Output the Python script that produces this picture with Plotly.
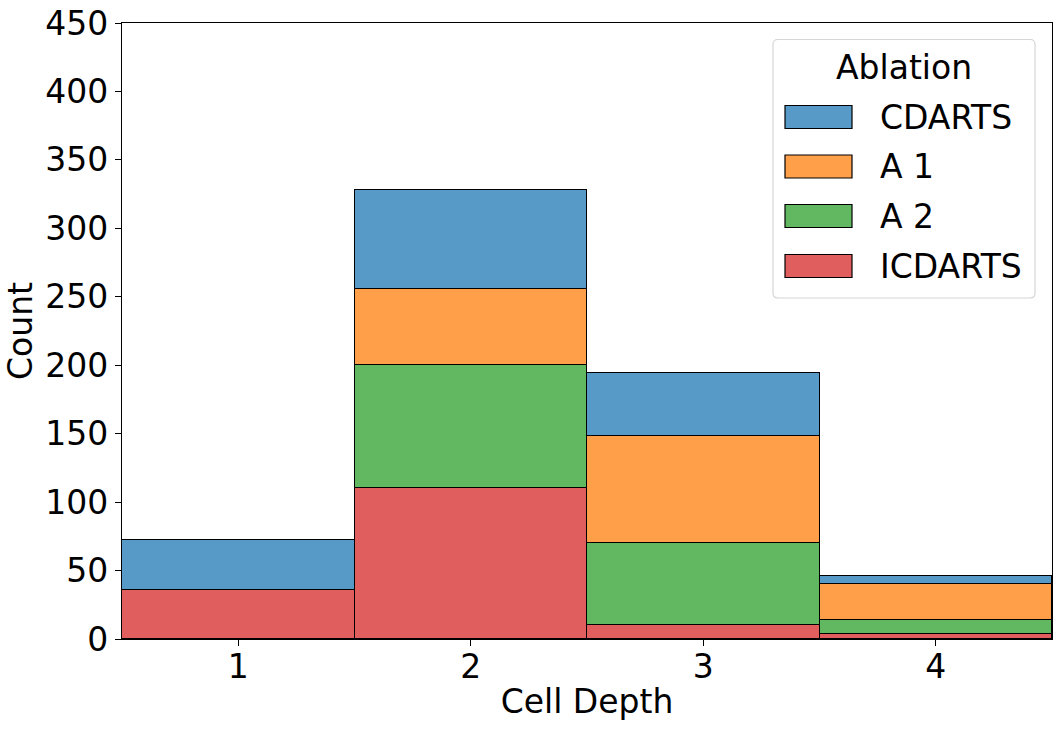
import plotly.graph_objects as go

depths = [1, 2, 3, 4]
series_names = ["ICDARTS", "A 2", "A 1", "CDARTS"]  # bottom to top
icdarts = [36, 110, 10, 4]
a2 = [0, 90, 60, 10]
a1 = [0, 56, 78, 26]
cdarts = [36, 72, 46, 6]
series_values = [icdarts, a2, a1, cdarts]
colors = {"ICDARTS": "#e05f5e", "A 2": "#61b861", "A 1": "#ff9f4a", "CDARTS": "#5799c7"}
legend_order = ["CDARTS", "A 1", "A 2", "ICDARTS"]
y_ticks = [0, 50, 100, 150, 200, 250, 300, 350, 400, 450]

W, H = 1062, 730
L, R, T, B = 122, 10, 23, 91
PW, PH = W - L - R, H - T - B

def px(x):
    return (x - L) / PW

def py(y):
    return (H - B - y) / PH

FONT = "DejaVu Sans"

fig = go.Figure()
for name, vals in zip(series_names, series_values):
    fig.add_trace(go.Bar(
        x=depths, y=vals, name=name, width=1,
        marker=dict(color=colors[name], line=dict(color="black", width=1.2)),
        showlegend=False,
    ))

shapes = []
annotations = []
# legend box (rounded)
x0, x1, y0, y1, r = 773, 1035, 39.5, 298, 5
path = (f"M {px(x0+r)},{py(y0)} L {px(x1-r)},{py(y0)} Q {px(x1)},{py(y0)} {px(x1)},{py(y0+r)} "
        f"L {px(x1)},{py(y1-r)} Q {px(x1)},{py(y1)} {px(x1-r)},{py(y1)} "
        f"L {px(x0+r)},{py(y1)} Q {px(x0)},{py(y1)} {px(x0)},{py(y1-r)} "
        f"L {px(x0)},{py(y0+r)} Q {px(x0)},{py(y0)} {px(x0+r)},{py(y0)} Z")
shapes.append(dict(type="path", path=path, xref="paper", yref="paper",
                   line=dict(color="#d6d6d6", width=1.2), fillcolor="rgba(255,255,255,0.8)"))
annotations.append(dict(text="Ablation", x=px(904), y=py(68), xref="paper", yref="paper",
                        xanchor="center", yanchor="middle", showarrow=False,
                        font=dict(family=FONT, size=33, color="black")))
row_y = [117, 166.5, 216, 266]
for name, yc in zip(legend_order, row_y):
    shapes.append(dict(type="rect", xref="paper", yref="paper",
                       x0=px(785), x1=px(852), y0=py(yc - 11.5), y1=py(yc + 11.5),
                       fillcolor=colors[name], line=dict(color="black", width=1.2)))
    annotations.append(dict(text=name, x=px(878), y=py(yc), xref="paper", yref="paper",
                            xanchor="left", yanchor="middle", showarrow=False,
                            font=dict(family=FONT, size=33, color="black")))

fig.update_layout(
    width=W, height=H,
    margin=dict(l=L, r=R, t=T, b=B, pad=0, autoexpand=False),
    plot_bgcolor="white", paper_bgcolor="white",
    barmode="stack", bargap=0,
    font=dict(family=FONT, size=33, color="black"),
    shapes=shapes, annotations=annotations,
    xaxis=dict(range=[0.5, 4.5], tickvals=depths, ticktext=[str(d) for d in depths],
               showline=True, mirror=True, linecolor="black", linewidth=1.2,
               ticks="outside", ticklen=6, tickcolor="black", showgrid=False, zeroline=False,
               automargin=False, ticklabelstandoff=-8,
               title=dict(text="Cell Depth", standoff=5, font=dict(size=33))),
    yaxis=dict(range=[0, 450], tickvals=y_ticks,
               showline=True, mirror=True, linecolor="black", linewidth=1.2,
               ticks="outside", ticklen=6, tickcolor="black", showgrid=False, zeroline=False,
               automargin=False,
               title=dict(text="Count", standoff=2, font=dict(size=33))),
)

fig.write_html("out.html", config={"displayModeBar": False},
               post_script="document.body.style.margin='0px';document.body.style.overflow='hidden';")
